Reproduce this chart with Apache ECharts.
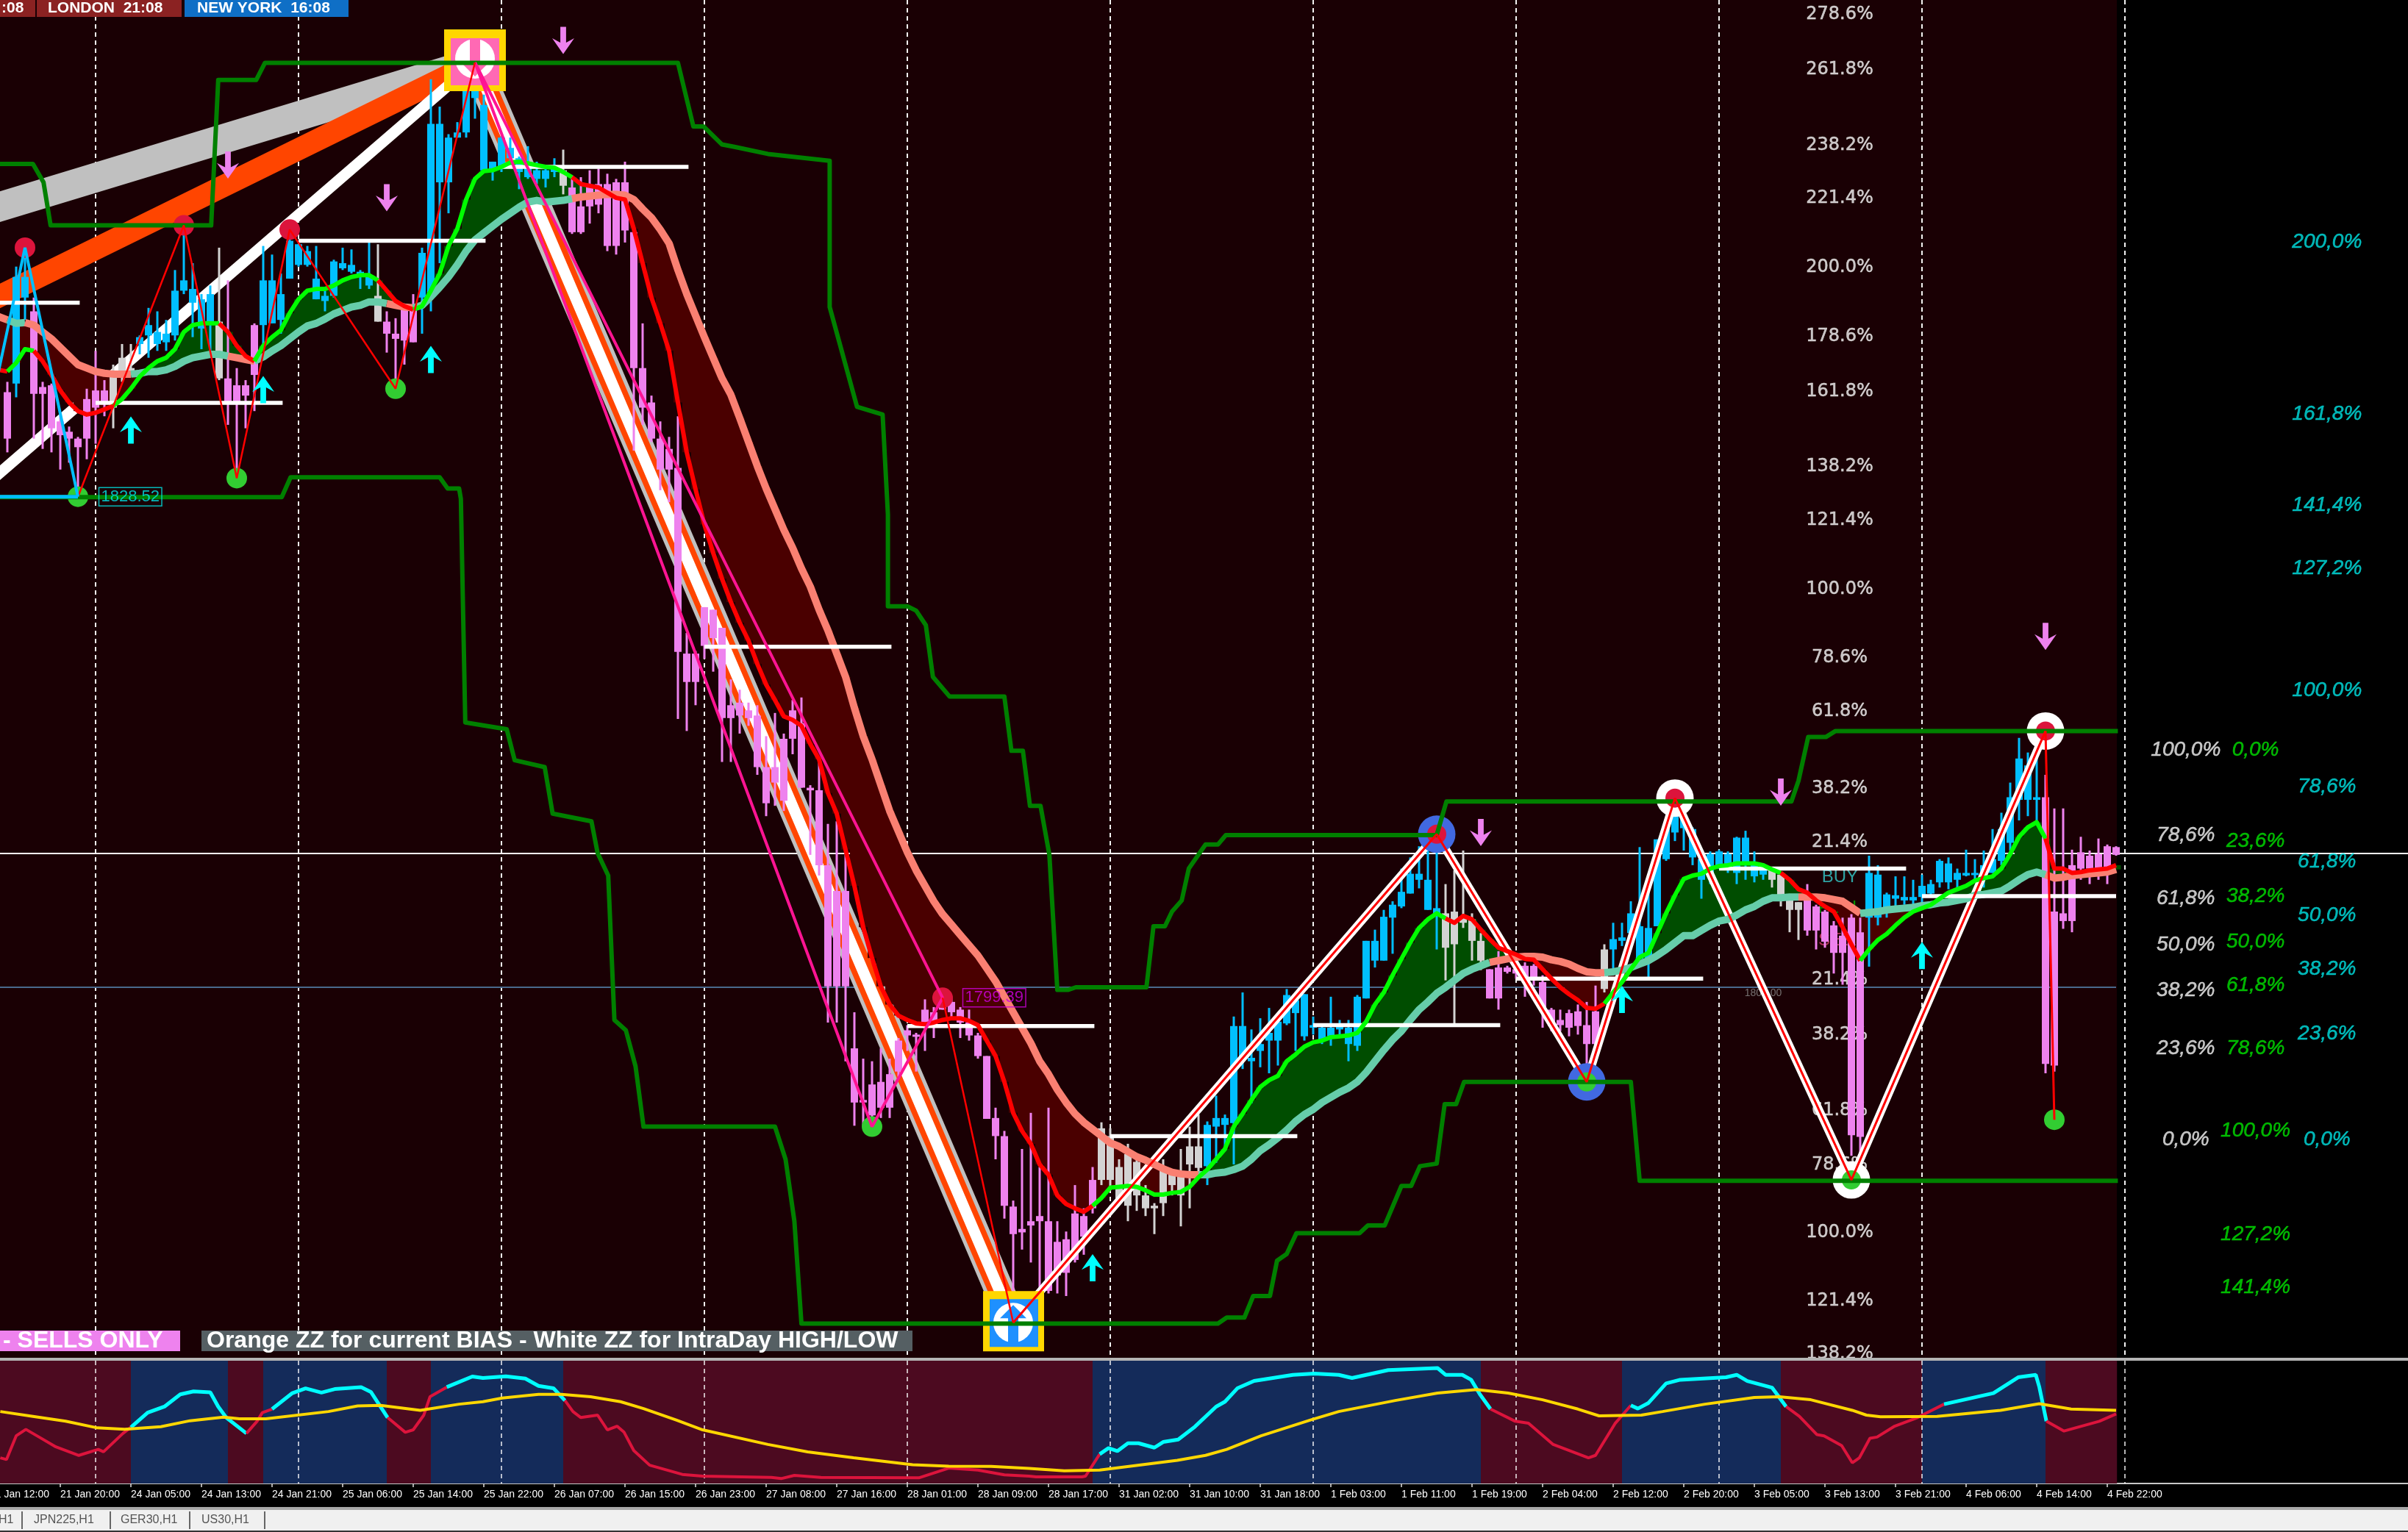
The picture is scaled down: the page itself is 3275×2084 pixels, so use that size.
<!DOCTYPE html>
<html><head><meta charset="utf-8"><title>XAU H1 chart</title>
<style>html,body{margin:0;padding:0;background:#000}#c{width:3275px;height:2084px}</style>
<script src="https://cdn.jsdelivr.net/npm/echarts@6/dist/echarts.min.js"></script></head>
<body><div id="c"></div>
<script>
// ---------- DATA (bars are hourly, price in USD) ----------
const tickLabels = ['21 Jan 12:00','21 Jan 20:00','24 Jan 05:00','24 Jan 13:00','24 Jan 21:00','25 Jan 06:00','25 Jan 14:00','25 Jan 22:00','26 Jan 07:00','26 Jan 15:00','26 Jan 23:00','27 Jan 08:00','27 Jan 16:00','28 Jan 01:00','28 Jan 09:00','28 Jan 17:00','31 Jan 02:00','31 Jan 10:00','31 Jan 18:00','1 Feb 03:00','1 Feb 11:00','1 Feb 19:00','2 Feb 04:00','2 Feb 12:00','2 Feb 20:00','3 Feb 05:00','3 Feb 13:00','3 Feb 21:00','4 Feb 06:00','4 Feb 14:00','4 Feb 22:00'];
const daySeparators = [12,35,58,81,104,127,150,173,196,219,242];
const firstCandleBar = 2;
const candles = [ // open, close, low, high
[1834.6,1831.9,1831.1,1835.2],[1835.1,1841.3,1834.3,1841.9],[1840.1,1841.3,1838.8,1843.0],[1839.3,1834.5,1831.9,1840.1],[1834.9,1834.5,1831.3,1835.2],[1835.0,1832.5,1831.1,1835.1],[1832.9,1832.1,1830.1,1833.2],[1832.3,1831.9,1830.5,1832.6],[1831.9,1831.4,1828.8,1832.0],[1834.2,1831.9,1830.7,1834.8],
[1834.7,1833.7,1831.6,1837.0],[1834.7,1833.9,1833.2,1835.3],[1835.6,1833.7,1832.5,1836.2],[1836.6,1835.8,1835.2,1837.4],[1836.0,1835.8,1835.6,1837.4],[1837.4,1837.8,1836.8,1837.9],[1837.9,1838.5,1836.6,1839.5],[1837.4,1838.1,1837.0,1839.3],[1837.5,1838.0,1837.0,1838.8],[1837.9,1840.5,1837.6,1841.7],
[1840.5,1841.1,1840.3,1844.1],[1839.8,1840.6,1837.8,1842.1],[1838.3,1840.0,1837.1,1840.3],[1838.7,1840.3,1837.0,1840.8],[1838.7,1835.4,1835.3,1843.0],[1835.4,1834.0,1832.7,1841.1],[1835.0,1834.0,1829.9,1836.0],[1835.0,1834.4,1832.5,1835.3],[1838.5,1835.6,1833.5,1838.6],[1838.5,1841.1,1837.2,1843.1],
[1838.6,1841.1,1838.6,1842.6],[1838.8,1840.3,1838.0,1841.5],[1841.2,1843.4,1841.2,1843.8],[1842.0,1843.2,1841.9,1843.2],[1842.0,1842.8,1841.9,1843.1],[1840.0,1841.2,1840.0,1843.1],[1839.9,1840.2,1839.3,1840.5],[1840.2,1842.2,1840.1,1842.3],[1841.8,1842.1,1841.7,1843.0],[1841.6,1842.0,1841.5,1842.9],
[1841.3,1841.6,1840.6,1841.7],[1840.8,1841.3,1840.6,1843.3],[1840.2,1838.7,1838.7,1843.2],[1838.7,1838.0,1836.9,1839.3],[1838.0,1837.7,1834.9,1838.9],[1839.4,1837.6,1836.2,1839.6],[1839.4,1837.5,1837.5,1840.3],[1840.1,1842.7,1838.0,1843.0],[1840.1,1850.2,1839.3,1852.8],[1846.8,1850.2,1842.1,1851.2],
[1846.8,1849.4,1845.0,1849.6],[1849.4,1849.7,1849.4,1850.3],[1849.7,1852.1,1849.4,1852.7],[1851.7,1852.2,1850.5,1853.8],[1847.5,1851.3,1847.5,1851.9],[1847.5,1848.0,1846.9,1848.0],[1847.6,1849.4,1847.4,1849.5],[1848.2,1848.8,1848.0,1849.4],[1847.4,1848.2,1846.4,1848.3],[1847.1,1847.8,1847.0,1848.9],
[1847.0,1847.5,1846.7,1848.0],[1847.0,1847.5,1846.5,1847.8],[1847.4,1847.6,1847.1,1848.2],[1847.5,1846.6,1846.1,1848.7],[1846.5,1843.9,1843.8,1847.2],[1845.4,1843.9,1843.8,1847.1],[1846.6,1845.4,1844.4,1847.5],[1846.7,1845.5,1845.0,1847.6],[1846.7,1843.1,1842.8,1847.3],[1846.8,1843.1,1842.6,1847.0],
[1846.8,1844.0,1843.3,1848.0],[1843.9,1836.0,1831.2,1844.1],[1836.0,1833.7,1832.7,1838.6],[1834.0,1831.9,1831.7,1834.4],[1831.9,1830.1,1828.9,1832.9],[1831.3,1830.1,1828.2,1832.0],[1830.2,1819.5,1815.6,1833.2],[1819.4,1817.75,1814.9,1820.6],[1819.4,1817.75,1816.4,1819.55],[1822.1,1819.85,1819.1,1822.1],
[1821.95,1820.3,1818.35,1821.95],[1820.9,1815.65,1813.1,1820.9],[1816.4,1815.65,1813.1,1817.9],[1816.55,1815.8,1814.75,1817.3],[1816.1,1815.65,1815.2,1816.55],[1815.8,1812.8,1812.35,1816.4],[1812.8,1810.7,1809.95,1814.6],[1812.8,1811.9,1810.55,1815.95],[1814.45,1810.85,1810.25,1814.75],[1816.1,1814.45,1813.55,1816.7],
[1815.35,1811.6,1811.6,1816.85],[1811.6,1811.45,1807.7,1811.75],[1811.45,1807.1,1806.5,1813.1],[1807.1,1800.05,1797.95,1809.5],[1805.6,1800.05,1797.95,1809.65],[1805.6,1800.05,1795.7,1807.7],[1796.45,1793.3,1791.95,1798.55],[1793.45,1793.3,1791.95,1795.85],[1794.35,1792.55,1792.25,1795.7],[1794.5,1793.0,1792.4,1796.45],
[1794.95,1793.0,1792.4,1795.85],[1796.9,1795.1,1794.8,1797.05],[1797.5,1797.2,1796.3,1797.8],[1797.25,1797.15,1795.1,1797.35],[1798.7,1797.95,1796.3,1799.3],[1798.55,1797.8,1797.05,1798.85],[1799.45,1798.7,1798.7,1799.6],[1799.15,1798.55,1798.25,1799.45],[1798.7,1797.95,1797.05,1798.85],[1797.95,1797.2,1796.9,1798.7],
[1797.2,1796,1795.85,1797.35],[1796,1792.35,1792.35,1796],[1792.4,1791.35,1790,1793],[1791.35,1787.3,1786.55,1791.65],[1787.25,1785.65,1782.2,1787.6],[1785.95,1785.75,1784.75,1790.6],[1786.4,1786.15,1784,1792.7],[1786.7,1786.4,1781.9,1789.55],[1786.4,1782.35,1782.2,1793],[1785.2,1783.25,1782.2,1786.4],
[1785.35,1783.4,1782.05,1785.8],[1786.85,1784.15,1784,1788.5],[1786.7,1785.5,1784.45,1787.15],[1788.8,1787.15,1786.85,1789.55],[1791.8,1788.8,1788.5,1792.15],[1791.35,1788.8,1788.2,1791.8],[1789.55,1787.6,1787.6,1790],[1790.3,1787.3,1786.4,1790.9],[1789.85,1787.9,1787,1790.3],[1787.9,1787.15,1786.7,1788.5],
[1787.3,1787.15,1785.65,1787.45],[1789.55,1787.45,1786.7,1790],[1789.1,1788.5,1787.9,1789.1],[1789.25,1787.9,1786.1,1790.6],[1790.75,1789.7,1787.15,1791.9],[1790.75,1789.5,1789.05,1792.6],[1789.6,1792,1788.5,1792.2],[1791.9,1792.4,1789.8,1793.7],[1792,1792.4,1790.6,1792.6],[1792.1,1797.75,1789.7,1798.3],
[1795.9,1797.75,1795.25,1799.7],[1795.7,1795.9,1793.25,1797.55],[1796.3,1796.7,1795.35,1798.2],[1796.9,1797.35,1795,1798.8],[1796.9,1798,1795.45,1798.5],[1797.9,1799.55,1797.8,1799.9],[1798.5,1799.25,1796.3,1799.7],[1797.15,1799.6,1796.9,1799.6],[1797.65,1797.8,1797.25,1798.3],[1796.9,1797.65,1796.7,1797.8],
[1797.15,1797.65,1796.6,1799.45],[1797.55,1797.8,1797.05,1798.1],[1796.7,1797.65,1795.7,1798.1],[1796.6,1799.45,1796.3,1799.55],[1799.35,1802.7,1799.35,1802.7],[1801.55,1802.7,1801.15,1803.35],[1801.55,1804.1,1801.55,1804.5],[1804.05,1804.8,1801.95,1805],[1804.7,1805.55,1804.6,1806.9],[1805.45,1806.6,1805.45,1807.55],
[1806.25,1806.6,1805.75,1808.2],[1804.5,1806.25,1804.5,1807.95],[1804.3,1804.6,1802.2,1808.9],[1804.3,1802.3,1800.4,1806],[1804.4,1802.5,1797.8,1806.8],[1804.1,1803.75,1803.45,1807.95],[1803.95,1802.7,1801.55,1804.3],[1802.7,1801.55,1801,1803.15],[1801.05,1799.35,1799.35,1801.05],[1801.15,1799.35,1798.7,1802.1],
[1801.15,1800.9,1800.8,1801.25],[1801.05,1800.8,1800.5,1801.25],[1801.25,1800.5,1799.45,1801.45],[1801.25,1800.6,1800.1,1801.35],[1800.3,1798.8,1797.65,1800.7],[1798.7,1797.75,1797.45,1798.8],[1798.1,1797.8,1797.45,1798.7],[1798.5,1797.65,1797.15,1798.7],[1798.6,1797.75,1797.25,1799],[1797.8,1796.7,1794.8,1799.15],
[1798.6,1796.7,1796.3,1800.1],[1802.2,1799.9,1799.7,1802.5],[1802.2,1802.8,1800.7,1803.75],[1802.7,1802.9,1802.4,1803.75],[1803.15,1804.3,1802.4,1805],[1801.65,1803.55,1801.65,1808.15],[1801.65,1803.45,1800.6,1805.55],[1803.55,1808.6,1803.55,1808.6],[1807.45,1809.45,1807.35,1809.45],[1809,1810.25,1808.5,1810.7],
[1809.25,1810,1807.95,1810.6],[1807.55,1809.2,1807.1,1809.3],[1806.25,1807.45,1805.15,1807.75],[1806.55,1807.75,1806,1807.9],[1806.9,1807.9,1806.9,1808],[1806.8,1807.75,1806.65,1807.9],[1806.65,1808.7,1806,1808.75],[1807.1,1808.7,1806.25,1809.1],[1806.45,1807.1,1806.1,1807.9],[1806.55,1806.9,1806.25,1807.2],
[1806.8,1806.25,1805.8,1806.9],[1806.55,1805.35,1804.7,1806.65],[1805.25,1804.5,1803.2,1805.35],[1804.95,1804.5,1802.75,1804.95],[1805.25,1803.3,1803,1806],[1804.7,1803.3,1802.2,1804.8],[1804.4,1802.65,1802.3,1804.5],[1803.6,1802,1800.8,1803.85],[1803,1802,1800.15,1804.05],[1804.05,1791.4,1790.2,1804.25],
[1803.2,1791.3,1790.2,1804.05],[1804.05,1806.65,1801.2,1807.65],[1804.05,1806.55,1803.6,1807.1],[1804.6,1805.4,1804.05,1805.5],[1805.15,1805.35,1804.5,1806.45],[1805.05,1805.25,1804.8,1806.45],[1805.05,1805.25,1804.8,1806.25],[1805.25,1805.9,1804.95,1806.55],[1805.45,1806,1805.25,1806.25],[1806.1,1807.35,1805.8,1807.45],
[1806.1,1807.2,1805.7,1807.55],[1806.25,1806.65,1805.8,1806.9],[1806.5,1806.65,1806.45,1808],[1806.55,1806.65,1806.25,1807.45],[1806.55,1807.1,1805.8,1807.95],[1806.65,1807.45,1806.65,1809.2],[1807.35,1809.2,1807.1,1810.15],[1808.4,1811.05,1807.95,1811.9],[1810.9,1813.3,1809.7,1814.5],[1810.9,1812.9,1809.95,1813.65],
[1810.9,1811.05,1809.7,1813.45],[1811.05,1795.55,1795,1812.35],[1804.4,1795.45,1795.1,1810.4],[1804.3,1803.85,1803.4,1810.4],[1807.1,1803.85,1803.2,1808],[1807.85,1806.9,1806.25,1808.75],[1807.65,1806.9,1806,1807.95],[1807.75,1806.9,1806.25,1808.65],[1808.2,1806.65,1806,1808.3],[1808.15,1807.7,1807.65,1808.2]];
const candleKindStarts = [2,3,5,14,17,26,27,31,44,45,49,65,66,126,138,165,170,183,184,202,206,213,233];
const candleKindCodes = 'vbvgbgvbgvbgvgbgvgbgvbv';

const firstMaBar = 1;
const fastMA = [1835.9,1835.8,1836.3,1837.1,1837.0,1836.4,1835.6,1834.7,1834.0,1833.5,
1833.3,1833.4,1833.6,1833.8,1834.2,1834.8,1835.5,1836.0,1836.4,1836.6,
1837.1,1838.1,1838.5,1838.6,1838.6,1838.6,1838.1,1837.3,1836.7,1836.4,
1837.3,1837.8,1838.2,1839.2,1840.0,1840.5,1840.6,1840.6,1840.8,1841.1,
1841.3,1841.4,1841.4,1841.1,1840.5,1839.9,1839.6,1839.4,1839.6,1840.5,
1841.5,1843.1,1844.1,1845.8,1847.0,1847.45,1847.5,1847.7,1847.95,1848.0,
1847.9,1847.8,1847.7,1847.65,1847.4,1847.1,1846.7,1846.6,1846.5,1846.2,
1845.9,1845.8,1844.1,1842.1,1840.1,1838.6,1837.0,1834.0,1831.1,1828.95,
1826.9,1825.25,1823.75,1822.4,1821.2,1820.15,1818.8,1817.6,1816.7,1815.75,
1815.55,1815.2,1814.15,1813.25,1811.3,1810.1,1808,1805.9,1803.5,1801.7,
1800.05,1799,1798.35,1798.1,1797.9,1797.85,1797.95,1798.1,1798.2,1798.2,
1798.05,1797.8,1796.9,1796,1794.5,1792.7,1791.65,1790.9,1789.7,1789.1,
1787.9,1787.4,1787.15,1786.95,1787.3,1787.75,1788.35,1788.4,1788.45,1788.4,
1788.2,1787.95,1787.95,1788.05,1788.1,1788.4,1788.95,1789.4,1790,1790.6,
1791.9,1792.65,1793.45,1794.2,1794.6,1794.85,1795.7,1796.1,1796.55,1796.8,
1796.9,1797.1,1797.15,1797.2,1797.35,1798,1799,1799.7,1800.7,1801.65,
1802.6,1803.45,1803.95,1804.3,1804,1803.75,1804.15,1803.95,1803.35,1802.8,
1802.3,1802.1,1801.9,1801.65,1801.6,1801.05,1800.5,1800,1799.6,1799.25,
1798.8,1798.75,1799.05,1799.7,1800.3,1801.05,1801.75,1802,1803.15,1804.3,
1805.35,1806.3,1806.5,1806.6,1806.9,1807.05,1807.1,1807.2,1807.2,1807.2,
1807.1,1806.85,1806.65,1806.25,1805.7,1805.5,1805.05,1804.7,1804.4,1803.5,
1802.5,1801.55,1802.2,1802.75,1803.1,1803.6,1804.05,1804.4,1804.6,1804.8,
1805.15,1805.5,1805.7,1805.9,1806.2,1806.35,1806.45,1806.9,1807.75,1808.75,
1809.3,1809.6,1808.65,1806.9,1806.9,1806.65,1806.7,1806.8,1806.85,1806.9,1807.1];
const slowMA = [1839,1838.8,1838.6,1838.65,1838.5,1838.1,1837.7,1837.2,1836.7,1836.2,
1836,1835.8,1835.7,1835.65,1835.65,1835.65,1835.7,1835.8,1835.8,1835.9,
1836.1,1836.4,1836.6,1836.7,1836.8,1836.8,1836.7,1836.6,1836.5,1836.4,
1836.65,1837,1837.3,1837.7,1838.1,1838.45,1838.6,1838.85,1839.15,1839.35,
1839.55,1839.65,1839.85,1839.85,1839.75,1839.65,1839.55,1839.5,1839.65,1840.15,
1840.7,1841.3,1842,1842.8,1843.45,1843.85,1844.25,1844.65,1845,1845.35,
1845.65,1845.75,1845.65,1845.7,1845.75,1845.85,1845.95,1846,1846.05,1846.1,
1846.1,1846.05,1845.8,1845.25,1844.75,1844.05,1843.25,1841.7,1840.3,1839.05,
1837.8,1836.6,1835.4,1834.45,1833.1,1831.7,1830.3,1829,1827.8,1826.6,
1825.55,1824.35,1823.3,1821.95,1820.75,1819.4,1818.05,1816.25,1814.6,1813.25,
1811.75,1810.25,1809.05,1807.85,1806.8,1805.9,1805,1804.25,1803.65,1803.05,
1802.45,1801.85,1801.1,1800.35,1799.45,1798.55,1797.65,1796.75,1795.7,1794.95,
1794.05,1793.3,1792.65,1792.15,1791.75,1791.35,1790.95,1790.75,1790.45,1790.15,
1789.95,1789.7,1789.45,1789.25,1789.15,1789.1,1789.1,1789.1,1789.2,1789.25,
1789.4,1789.6,1790,1790.5,1790.85,1791.25,1791.7,1792.2,1792.6,1792.9,
1793.3,1793.6,1793.9,1794.15,1794.5,1795.05,1795.7,1796.35,1796.95,1797.45,
1798.1,1798.7,1799.15,1799.65,1800,1800.4,1800.8,1801.05,1801.25,1801.45,
1801.55,1801.65,1801.75,1801.8,1801.8,1801.75,1801.6,1801.5,1801.35,1801.1,
1800.9,1800.85,1800.85,1800.9,1801,1801.15,1801.35,1801.55,1801.85,1802.2,
1802.6,1803,1803,1803.3,1803.6,1803.85,1803.95,1804.2,1804.5,1804.7,
1805,1805.2,1805.2,1805.25,1805.25,1805.25,1805.25,1805.2,1805.1,1805,
1804.65,1804.3,1804.35,1804.4,1804.5,1804.55,1804.6,1804.65,1804.75,1804.8,
1804.9,1804.95,1805.05,1805.15,1805.35,1805.4,1805.5,1805.6,1805.9,1806.25,
1806.55,1806.7,1806.55,1806.35,1806.4,1806.5,1806.55,1806.6,1806.65,1806.7,1806.85];
const fastBullRanges = [[2,4],[14,25],[30,43],[48,65],[125,164],[183,202],[212,232]];
const slowBullRanges = [[2,3],[16,26],[30,44],[48,65],[137,169],[183,204],[212,232]];

const channelUpper = [[1,1847.87],[4.9,1847.87],[6.1,1846.8],[6.9,1844.3],[25.1,1844.3],[25.9,1852.75],[30.2,1852.75],[31.2,1853.75],[78,1853.75],[79.75,1850.05],[80.9,1850.05],[83,1849],[84.5,1848.85],[88.2,1848.45],[95.2,1848.05],[95.2,1839.55],[98.3,1833.75],[101.2,1833.3],[101.8,1827.5],[101.8,1822.15],[104,1822.15],[105,1821.9],[106.1,1821.05],[106.9,1818.05],[108.8,1816.9],[115,1816.9],[115.8,1813.75],[117.1,1813.75],[117.9,1810.55],[119.1,1810.55],[120.1,1807.7],[121,1799.85],[122.25,1799.85],[123.1,1800],[131.1,1800],[131.9,1803.55],[133.2,1803.55],[134,1804.4],[135.1,1805.05],[135.9,1806.9],[137.8,1808.3],[139.2,1808.3],[140.1,1808.85],[164,1808.85],[165.1,1810.8],[204.2,1810.8],[205,1812],[206.1,1814.55],[208.1,1814.55],[209.2,1814.9],[241.2,1814.9]];
const channelLower = [[1,1828.5],[33.1,1828.5],[34.1,1829.65],[51,1829.65],[51.9,1829],[53.2,1829],[53.4,1828.4],[53.9,1815.4],[58.6,1815],[59.5,1813.2],[62.9,1812.8],[63.8,1810.1],[68.2,1809.65],[68.9,1807.8],[70.1,1806.5],[70.8,1798.1],[72.1,1797.5],[73.2,1795.4],[74.1,1791.9],[89,1791.9],[90.2,1790],[91.2,1786.4],[92,1780.45],[139.2,1780.45],[140.2,1780.8],[142.2,1780.8],[143.2,1782.05],[145.1,1782.05],[145.9,1784.1],[147,1784.5],[148.1,1785.7],[155.25,1785.7],[156.2,1786.15],[158.1,1786.15],[160,1788.45],[161.1,1788.45],[162.1,1789.6],[164,1789.75],[164.9,1793.2],[166.2,1793.2],[167.1,1794.5],[186,1794.5],[187,1788.75],[241.2,1788.75]];

const grayZigzag = [[0,1845.2],[55,1853.77],[116,1780.5]];
const orangeZigzag = [[0,1839.9],[55,1853.77],[116,1780.5]];
const whiteZigzag = [[0,1829.4],[55,1853.77],[116,1780.5]];
const intradayZigzag = [[116,1780.5],[164,1808.9],[181,1794.5],[191,1811],[211,1788.8],[233,1814.9]];
const swingRedA = [[10,1828.52],[22,1844.3],[28,1829.6],[34,1844.05],[46,1834.8],[55,1853.77]];
const swingRedB = [[108,1799.39],[116,1780.5]];
const swingRedC = [[233,1814.9],[234,1792.3]];
const swingBlue = [[0,1833.4],[4,1843],[10,1828.52]];
const swingBlueFlat = [[0,1828.52],[10,1828.52]];
const swingPink = [[55,1853.77],[100,1791.9],[108,1799.39],[55,1853.77]];

const dailyLevels = [[0,10.2,1839.8],[12,33.2,1833.98],[35,56.2,1843.4],[58,79.2,1847.7],[81,102.2,1819.8],[104,125.2,1797.75],[127,148.2,1791.35],[150,171.2,1797.8],[173,194.2,1800.5],[196,217.2,1806.9],[219,241,1805.3]];
const currentPrice = 1807.78;
const roundPrice = 1800;

const swingHighs = [[4,1843],[22,1844.3],[34,1844.05],[108,1799.39]];
const swingLows = [[10,1828.52],[28,1829.6],[46,1834.8],[100,1791.9],[234,1792.3]];
const whiteRingHighs = [[191,1811],[233,1814.9]];
const whiteRingLows = [[211,1788.8]];
const blueRingHighs = [[164,1808.9]];
const blueRingLows = [[181,1794.5]];
const pivotBoxes = [[55,1853.9,0],[116,1780.5,1]];
const upArrows = [[16,1832.4],[31,1834.75],[50,1836.5],[125,1783.7],[185,1799.3],[219,1801.85]];
const downArrows = [[65,1855.05],[27,1847.8],[45,1845.9],[169,1809],[203,1811.35],[233,1820.4]];

const fibAxisNames = ['278.6%','261.8%','238.2%','221.4%','200.0%','178.6%','161.8%','138.2%','121.4%','100.0%','78.6%','61.8%','38.2%','21.4%','21.4%','38.2%','61.8%','78.6%','100.0%','121.4%','138.2%'];
const fibAxisPrices = [1856.55,1853.35,1848.95,1845.85,1841.85,1837.85,1834.65,1830.25,1827.15,1823.15,1819.15,1816.05,1811.55,1808.45,1800.45,1797.25,1792.85,1789.65,1785.75,1781.75,1778.7];
const fibWhiteNames = ['100,0%','78,6%','61,8%','50,0%','38,2%','23,6%','0,0%'];
const fibWhitePrices = [1813.8,1808.85,1805.15,1802.45,1799.8,1796.45,1791.15];
const fibGreenNames = ['0,0%','23,6%','38,2%','50,0%','61,8%','78,6%','100,0%','127,2%','141,4%'];
const fibGreenPrices = [1813.8,1808.5,1805.3,1802.65,1800.1,1796.45,1791.65,1785.65,1782.55];
const fibCyanNames = ['200,0%','161,8%','141,4%','127,2%','100,0%','78,6%','61,8%','50,0%','38,2%','23,6%','0,0%'];
const fibCyanPrices = [1843.35,1833.35,1828.05,1824.35,1817.25,1811.65,1807.3,1804.2,1801.05,1797.3,1791.15];

// oscillator (0-100)
const oscFast = [[1.2,20.9],[1.9,19.5],[3,38.8],[4.1,44.1],[5.6,37.8],[7.5,29.8],[10.1,22.9],[12.3,27.8],[12.9,25.8],[15.1,40.8],[16,45.7],[17.9,57.7],[19.8,62.6],[21.6,72.6],[23.1,75],[25,74.2],[25.9,62.6],[26.8,53.7],[29.1,40.8],[30.3,50.7],[30.9,57.7],[32,60.6],[34.3,73.6],[35.8,77.5],[37.6,74],[39.1,76.9],[42.1,78.5],[43.2,74.6],[44.2,63.6],[45.1,53.7],[47.1,41.7],[48,43.7],[49.2,55.7],[49.9,70.6],[51.8,78.5],[54.7,87.1],[55.9,85.9],[58.5,87.3],[60.7,85.5],[62.2,79.5],[63.9,77.5],[65.2,67.6],[66.1,58.6],[67,53.7],[68.9,55.7],[70,43.7],[71.1,46.7],[71.9,41.7],[73,26.8],[74.8,14.9],[78.5,7.4],[80.8,6],[88.6,5],[89.7,4],[91.2,6.6],[94.2,5],[105.3,4.6],[108.7,12.5],[112,10.9],[115,7],[117.8,6],[118.6,5.4],[123.8,5.4],[124.2,6],[125.8,23.9],[126.8,28.8],[127.8,26.4],[129,32.8],[130.2,32.8],[132,29.2],[133,33.8],[134.7,35.8],[136.6,46.3],[139,62.6],[140,66.6],[141.4,77.5],[143.3,83.5],[147.7,88.5],[150.1,89.5],[152.9,88.5],[154.4,85.9],[158.5,92.4],[164.1,94],[165,88.5],[166.9,88.5],[167.9,84.5],[168.9,72.6],[170.1,60.6],[172.9,50.7],[174.4,49.1],[177.2,31.8],[181.2,20.9],[182,22.9],[184.2,48.7],[186,63.6],[186.8,61],[188,65.6],[190,81.5],[191.6,84.5],[196.8,86.5],[198,88.5],[199.2,83.5],[202,78.1],[203.6,62.6],[205.1,54.7],[207.1,39.8],[207.9,38.8],[209.9,30.8],[211.1,16.9],[211.9,20.9],[213.1,36.8],[213.9,37.8],[215.9,46.7],[218.5,53.7],[221.5,64.6],[227.1,73.6],[229.9,86.5],[231.9,88.5],[232.3,78.5],[233.1,50.7],[235.1,42.7],[239.1,50.7],[241,56.7]];
const oscSlow = [[1.2,58.6],[4.9,54.7],[8.6,50.7],[12.2,45.3],[15.3,44.1],[19.4,46.3],[22.7,51.1],[26.5,54.1],[28.3,52.7],[31.3,52.7],[38.4,58.6],[41.7,63.2],[44.3,63.6],[48.8,59.6],[53.2,64.6],[55.9,66.6],[58.1,69.6],[62.2,72.6],[64.8,72.6],[68.1,70.6],[71.5,66.6],[74.1,61],[77.8,51.7],[80.8,43.7],[88.2,31.8],[92.7,25.8],[97.9,20.9],[104.6,15.3],[108.7,14.1],[113.5,13.9],[117.8,12.3],[121.8,10.3],[125.8,10.9],[134.6,18.9],[137.8,22.9],[140.2,27.8],[144.1,38.8],[149.7,51.7],[152.9,58.6],[159.3,67.6],[164.1,73.6],[168.5,76.5],[172.1,73.6],[176,68.2],[180,60.6],[182.4,55.1],[187.2,55.7],[189.6,58.6],[194.4,64.6],[200,70],[202.8,70.6],[206.4,68.2],[211.1,59.6],[212.7,55.7],[214.3,54.3],[220.7,54.7],[227.9,59.6],[232.3,65],[235.9,60.6],[241,59.6]];
const oscBullZones = [[16,27],[31,45],[50,65],[125,169],[185,203],[219,233]];
const oscBearZones = [[1,16],[27,31],[45,50],[65,125],[169,185],[203,219],[233,241.1]];

// ---------- STYLE / LAYOUT ----------
const C = {bgMain:'#1a0004',blue:'#00bfff',violet:'#ee82ee',grey:'#d3d3d3',lime:'#00ff00',red:'#ff0000',aqua:'#66cdaa',salmon:'#fa8072',bull:'#004d00',bear:'#4a0000',chan:'#008000'};
const SANS='"Liberation Sans",Arial,sans-serif';
const kindOf = b => { let k='v'; candleKindStarts.forEach((s,i)=>{ if(b>=s) k=candleKindCodes[i]; }); return k; };
const kindColor = {v:C.violet,b:C.blue,g:C.grey};
const MAIN_MIN=1778.46, MAIN_MAX=1857.4;
const BAR_MIN=14/12, BAR_MAX=3289/12;

function line(data,color,width,z,extra){
  return Object.assign({type:'line',data,xAxisIndex:0,yAxisIndex:0,showSymbol:false,symbol:'none',silent:true,z,
    lineStyle:{color,width,cap:'butt',join:'bevel'},animation:false,connectNulls:false},extra||{});
}
function splitRuns(pts,zones){
  const inside = x => zones.some(r=>x>=r[0]&&x<=r[1]);
  const runs=[]; let cur=null;
  pts.forEach(p=>{
    const s=inside(p[0]);
    if(!cur){cur={on:s,pts:[p]};runs.push(cur);return;}
    cur.pts.push(p);
    if(s!==cur.on){cur={on:s,pts:[p]};runs.push(cur);}
  });
  return runs;
}
const withBars=(vals,start)=>vals.map((v,i)=>[start+i,v]);
function dots(data,color,size,z){
  return {type:'scatter',data,symbol:'circle',symbolSize:size,itemStyle:{color,opacity:1},z,silent:true,xAxisIndex:0,yAxisIndex:0};
}
function textCol(names,prices,bar,font,color,z){
  return {type:'scatter',xAxisIndex:0,yAxisIndex:0,z,silent:true,symbolSize:1,itemStyle:{color:'rgba(0,0,0,0)'},
    data:names.map((n,i)=>({name:n,value:[bar,prices[i]]})),
    label:{show:true,position:'inside',formatter:'{b}',color,fontFamily:font.f,fontSize:font.s,fontStyle:font.i?'italic':'normal',align:'center',verticalAlign:'middle',textBorderColor:font.b?color:'transparent',textBorderWidth:font.b||0},
    labelLayout:{hideOverlap:false}};
}
function vlines(gridIdx,alpha,z,ymin,ymax){
  return {type:'custom',xAxisIndex:gridIdx,yAxisIndex:gridIdx,z,silent:true,data:daySeparators.map(b=>[b]),clip:true,
    renderItem:(p,api)=>{const a=api.coord([api.value(0),ymax]),b=api.coord([api.value(0),ymin]);
      return {type:'line',shape:{x1:a[0],y1:a[1],x2:b[0],y2:b[1]},style:{stroke:'rgba(255,255,255,'+alpha+')',lineWidth:2,lineDash:[6,5]}};}};
}
const series=[];
series.push(vlines(0,0.95,1,MAIN_MIN,MAIN_MAX));
series.push(line([[BAR_MIN,currentPrice],[BAR_MAX,currentPrice]],'#ffffff',2,1));
series.push(line([[BAR_MIN,roundPrice],[241,roundPrice]],'#49698c',2,1));
series.push(textCol(fibAxisNames,fibAxisPrices,209.67,{f:'"DejaVu Sans",sans-serif',s:24,b:0.5},'#f2f2f2',2));
series.push(textCol(fibWhiteNames,fibWhitePrices,248.9,{f:SANS,s:28,i:1,b:0.5},'#f0f0f0',2));
series.push(textCol(fibGreenNames,fibGreenPrices,256.8,{f:SANS,s:28,i:1,b:0.5},'#00e000',2));
series.push(textCol(fibCyanNames,fibCyanPrices,264.9,{f:SANS,s:28,i:1,b:0.5},'#00e0e0',2));
series.push(textCol(['BUY'],[1806.4],209.7,{f:SANS,s:24},'#33cccc',2));
series.push(textCol(['PULL'],[1804.6],209.7,{f:SANS,s:24},'#00b400',2));
series.push(textCol(['SELL'],[1802.7],209.7,{f:SANS,s:24},'#d0406a',2));
series.push(textCol(['1800.00'],[1799.65],201,{f:SANS,s:14},'#8c8c8c',2));
series.push(line(grayZigzag,'#c0c0c0',40,3));
series.push(line(orangeZigzag,'#ff4500',30,3));
series.push(line(whiteZigzag,'#ffffff',15,3));
series.push({type:'custom',xAxisIndex:0,yAxisIndex:0,z:4,silent:true,clip:true,
  data:fastMA.map((v,i)=>[firstMaBar+i,v,slowMA[i]]),
  renderItem:(p,api)=>{const b=api.value(0),f=api.value(1),s=api.value(2),a=api.coord([b,f]),c=api.coord([b,s]);
    const h=Math.abs(a[1]-c[1]);
    return {type:'rect',shape:{x:a[0]-6,y:Math.min(a[1],c[1]),width:12.5,height:h},style:{fill:f>s?C.bull:C.bear}};}});
series.push({type:'custom',xAxisIndex:0,yAxisIndex:0,z:5,silent:true,clip:true,
  dimensions:['bar','open','close','low','high'],
  data:candles.map((v,i)=>[firstCandleBar+i,v[0],v[1],v[2],v[3]]),
  renderItem:(p,api)=>{
    const b=api.value(0),o=api.value(1),c=api.value(2),l=api.value(3),h=api.value(4);
    const top=api.coord([b,Math.max(o,c)]),bot=api.coord([b,Math.min(o,c)]),hi=api.coord([b,h]),lo=api.coord([b,l]);
    const col=kindColor[kindOf(b)];
    return {type:'group',children:[
      {type:'rect',shape:{x:top[0]-1.5,y:hi[1],width:3,height:Math.max(lo[1]-hi[1],2)},style:{fill:col}},
      {type:'rect',shape:{x:top[0]-5,y:top[1],width:10,height:Math.max(bot[1]-top[1],3)},style:{fill:col}}]};
  }});
// intraday zigzag outline sits over the candles but under the pivots
series.push(line(intradayZigzag,'#ffffff',11,5.5));
series.push({type:'custom',xAxisIndex:0,yAxisIndex:0,z:6,silent:true,clip:false,data:pivotBoxes,
  renderItem:(p,api)=>{
    const c=api.coord([api.value(0),api.value(1)]),up=api.value(2)===1,col=up?'#1e90ff':'#ff69b4',x=c[0],y=c[1];
    const gold=up?[-41,-43,83,82]:[-42,-42,84,84], inner=up?[-32,-32,66,65]:[-33,-30,66,64], cy=up?y:y-2;
    const arrow=up
      ? [{type:'rect',shape:{x:x-7,y:cy-8,width:14,height:36},style:{fill:col}},
         {type:'polygon',shape:{points:[[x,cy-24],[x-18,cy-6],[x+18,cy-6]]},style:{fill:col}}]
      : [{type:'rect',shape:{x:x-7,y:cy-28,width:14,height:36},style:{fill:col}},
         {type:'polygon',shape:{points:[[x,cy+24],[x-18,cy+6],[x+18,cy+6]]},style:{fill:col}}];
    return {type:'group',children:[
      {type:'rect',shape:{x:x+gold[0],y:y+gold[1],width:gold[2],height:gold[3]},style:{fill:'#ffd700'}},
      {type:'rect',shape:{x:x+inner[0],y:y+inner[1],width:inner[2],height:inner[3]},style:{fill:col}},
      {type:'circle',shape:{cx:x,cy,r:27},style:{fill:'#ffffff'}}].concat(arrow)};
  }});
series.push(dots(whiteRingHighs.concat(whiteRingLows),'#ffffff',51,6));
series.push(dots(blueRingHighs.concat(blueRingLows),'#4169e1',51,6));
series.push(dots(whiteRingHighs.concat(blueRingHighs),'#dc143c',26,6));
series.push(dots(whiteRingLows.concat(blueRingLows),'#32cd32',26,6));
series.push(dots(swingHighs,'#dc143c',28,6));
series.push(dots(swingLows,'#32cd32',28,6));
series.push(line(channelUpper,C.chan,6,7,{lineStyle:{color:C.chan,width:6,join:'round'}}));
series.push(line(channelLower,C.chan,6,7,{lineStyle:{color:C.chan,width:6,join:'round'}}));
splitRuns(withBars(slowMA,firstMaBar),slowBullRanges).forEach(r=>series.push(line(r.pts,r.on?C.aqua:C.salmon,10,8,{lineStyle:{color:r.on?C.aqua:C.salmon,width:10,join:'round'}})));
dailyLevels.forEach(d=>series.push(line([[Math.max(d[0],BAR_MIN),d[2]],[d[1],d[2]]],'#ffffff',5.5,8)));
splitRuns(withBars(fastMA,firstMaBar),fastBullRanges).forEach(r=>series.push(line(r.pts,r.on?C.lime:C.red,6,8,{lineStyle:{color:r.on?C.lime:C.red,width:6,join:'round'}})));
series.push(line(intradayZigzag,'#ff0000',3,9));
series.push(line(swingPink,'#ff1493',4,9));
series.push(line(swingRedA,'#ff0000',2.5,9));
series.push(line(swingRedB,'#ff0000',2.5,9));
series.push(line(swingRedC,'#ff0000',3,9));
series.push(line(swingBlue,'#00bfff',4,9));
series.push(line(swingBlueFlat,'#00bfff',5,9));
const arrowPath='path://M50 0 L100 58 L63 42 L63 100 L37 100 L37 42 L0 58 Z';
series.push({type:'scatter',data:upArrows,symbol:arrowPath,symbolSize:[30,37],itemStyle:{color:'#00ffff',opacity:1},z:10,silent:true,xAxisIndex:0,yAxisIndex:0});
series.push({type:'scatter',data:downArrows,symbol:arrowPath,symbolRotate:180,symbolSize:[30,37],itemStyle:{color:C.violet,opacity:1},z:10,silent:true,xAxisIndex:0,yAxisIndex:0});
function tag(bar,price,txt,color,dist){
  return {type:'scatter',xAxisIndex:0,yAxisIndex:0,z:10,silent:true,symbolSize:1,itemStyle:{color:'rgba(0,0,0,0)'},
    data:[{name:txt,value:[bar,price]}],
    label:{show:true,formatter:'{b}',position:'right',distance:dist,color,fontFamily:SANS,fontSize:22,borderColor:color,borderWidth:1.5,padding:[2,3,1,3]}};
}
series.push(tag(10,1828.52,'1828.52','#00e6e6',28));
series.push(tag(108,1799.39,'1799.39','#d000e0',27));
series.push({type:'custom',xAxisIndex:1,yAxisIndex:1,z:1,silent:true,clip:true,
  data:oscBullZones.map(z=>[z[0],z[1],1]).concat(oscBearZones.map(z=>[z[0],z[1],0])),
  renderItem:(p,api)=>{const a=api.coord([api.value(0),100]),b=api.coord([api.value(1),0]);
    return {type:'rect',shape:{x:a[0],y:a[1],width:b[0]-a[0],height:b[1]-a[1]},style:{fill:api.value(2)?'#142b5a':'#4c0a20'}};}});
series.push(vlines(1,0.7,2,0,100));
splitRuns(oscFast,oscBullZones).forEach(r=>series.push(line(r.pts,r.on?'#00ffff':'#dc143c',r.on?5:4,3,{xAxisIndex:1,yAxisIndex:1})));
series.push(line(oscSlow,'#ffd700',4,4,{xAxisIndex:1,yAxisIndex:1}));

const rect=(x,y,w,h,fill,z)=>({type:'rect',shape:{x,y,width:w,height:h},style:{fill},z,silent:true});
const txt=(x,y,t,font,fill,z)=>({type:'text',x,y,style:{text:t,font,fill,verticalAlign:'middle'},z,silent:true});
const graphics=[
  rect(0,0,2879,1847,C.bgMain,0),
  rect(0,1847,3275,4,'#b4b4b4',60),
  rect(0,2050,3275,4,'#a8a8a8',60),
  rect(0,2054,3275,28,'#f0f0f0',60),
  rect(0,2082,3275,2,'#333333',60),
  rect(0,0,48,23,'#8b2222',60),
  rect(50,0,197,23,'#8b2222',60),
  rect(251,0,223,23,'#0f6fc6',60),
  txt(2,11,':08','bold 21px '+SANS,'#fff',61),
  txt(65,11,'LONDON  21:08','bold 21px '+SANS,'#fff',61),
  txt(268,11,'NEW YORK  16:08','bold 21px '+SANS,'#fff',61),
  rect(0,1810,245,28,C.violet,60),
  txt(4,1824,'- SELLS ONLY','bold 32px '+SANS,'#fff',61),
  rect(274,1810,967,28,'#555f63',60),
  txt(281,1824,'Orange ZZ for current BIAS - White ZZ for IntraDay HIGH/LOW','bold 32px '+SANS,'#fff',61),
  rect(29,2056,2,24,'#666',61),rect(149,2056,2,24,'#666',61),rect(257,2056,2,24,'#666',61),rect(359,2056,2,24,'#666',61),
  txt(-2,2068,'H1','16px '+SANS,'#555',61),
  txt(46,2068,'JPN225,H1','16px '+SANS,'#555',61),
  txt(164,2068,'GER30,H1','16px '+SANS,'#555',61),
  txt(274,2068,'US30,H1','16px '+SANS,'#555',61),
  txt(-14,2033,tickLabels[0],'14px '+SANS,'#ffffff',61)
];

const chart=echarts.init(document.getElementById('c'),null,{renderer:'canvas',width:3275,height:2084});
const tickBars=tickLabels.map((_,i)=>i*8).filter(v=>v>=8);
chart.setOption({
  backgroundColor:'#000000',animation:false,tooltip:{show:false},legend:{show:false},
  grid:[{left:0,top:0,width:3275,height:1847,show:false},{left:0,top:1851,width:3275,height:167,show:false}],
  xAxis:[
    {type:'value',gridIndex:0,min:BAR_MIN,max:BAR_MAX,show:false},
    {type:'value',gridIndex:1,min:BAR_MIN,max:BAR_MAX,
      splitLine:{show:false},
      axisLine:{show:true,onZero:false,lineStyle:{color:'#c8c8c8',width:2}},
      axisTick:{show:true,length:5,lineStyle:{color:'#e0e0e0',width:1.5},customValues:tickBars},
      axisLabel:{show:true,customValues:tickBars,align:'left',margin:8,color:'#ffffff',fontFamily:SANS,fontSize:14,hideOverlap:false,
        formatter:v=>tickLabels[v/8]||''}}
  ],
  yAxis:[
    {type:'value',gridIndex:0,min:MAIN_MIN,max:MAIN_MAX,show:false,scale:true},
    {type:'value',gridIndex:1,min:0,max:100,show:false}
  ],
  graphic:{elements:graphics},
  series
});
</script></body></html>
